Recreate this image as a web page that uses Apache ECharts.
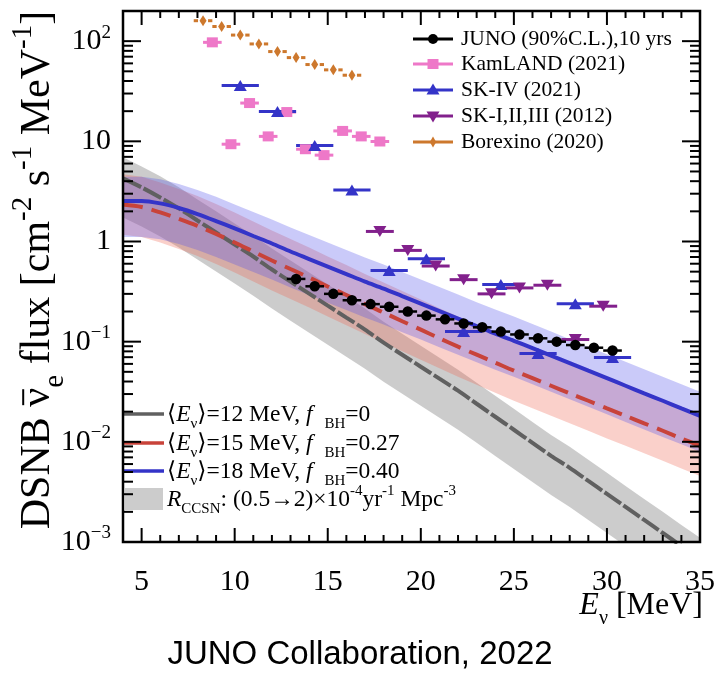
<!DOCTYPE html>
<html>
<head>
<meta charset="utf-8">
<script src="https://cdn.jsdelivr.net/npm/echarts@6/dist/echarts.min.js"></script>
<style>
  html, body { margin: 0; padding: 0; background: #fff; }
  #chart { width: 718px; height: 681px; }
</style>
</head>
<body>
<div id="chart"></div>
<script>
// ---- Axis ticks ----
const xTickLabels = [5, 10, 15, 20, 25, 30, 35];
const yDecadeExponents = [-3, -2, -1, 0, 1, 2];

// ---- Model predictions (flux in cm^-2 s^-1 MeV^-1 vs E_nu in MeV) ----
const energyGrid = [4, 5, 6, 7, 8, 9, 10, 11, 12, 13, 14, 15, 16, 17, 18, 19, 20, 21, 22, 23, 24, 25, 26, 27, 28, 29, 30, 31, 32, 33, 34, 35];

// <E_nu> = 12 MeV, f_BH = 0
const flux12 = [4.27, 3.47, 2.75, 2.14, 1.62, 1.23, 0.933, 0.708, 0.525, 0.398, 0.302, 0.229, 0.174, 0.132, 0.0977, 0.0741, 0.0562, 0.0427, 0.0324, 0.0240, 0.0178, 0.0132, 0.00977, 0.00724, 0.00550, 0.00407, 0.00302, 0.00224, 0.00166, 0.00123, 0.000912, 0.000676];
const flux12High = [6.92, 5.62, 4.47, 3.47, 2.63, 2.00, 1.51, 1.15, 0.851, 0.646, 0.490, 0.372, 0.282, 0.214, 0.158, 0.120, 0.0912, 0.0692, 0.0525, 0.0389, 0.0288, 0.0214, 0.0158, 0.0117, 0.00891, 0.00661, 0.00490, 0.00363, 0.00269, 0.00200, 0.00148, 0.00110];
const flux12Low = [1.74, 1.41, 1.12, 0.871, 0.661, 0.501, 0.380, 0.288, 0.214, 0.162, 0.123, 0.0933, 0.0708, 0.0537, 0.0398, 0.0302, 0.0229, 0.0174, 0.0132, 0.00977, 0.00724, 0.00537, 0.00398, 0.00295, 0.00224, 0.00166, 0.00123, 0.000912, 0.000676, 0.000501, 0.000372, 0.000275];

// <E_nu> = 15 MeV, f_BH = 0.27
const flux15 = [2.34, 2.21, 1.95, 1.68, 1.43, 1.19, 0.977, 0.794, 0.646, 0.531, 0.437, 0.355, 0.292, 0.237, 0.195, 0.160, 0.132, 0.108, 0.0891, 0.0741, 0.0617, 0.0513, 0.0432, 0.0363, 0.0305, 0.0257, 0.0216, 0.0182, 0.0153, 0.0129, 0.0108, 0.00912];
const flux15High = [4.68, 4.42, 3.89, 3.35, 2.85, 2.37, 1.95, 1.58, 1.29, 1.06, 0.871, 0.708, 0.582, 0.473, 0.389, 0.320, 0.263, 0.216, 0.178, 0.148, 0.123, 0.102, 0.0861, 0.0724, 0.0610, 0.0513, 0.0432, 0.0363, 0.0305, 0.0257, 0.0216, 0.0182];
const flux15Low = [1.17, 1.11, 0.977, 0.841, 0.716, 0.596, 0.490, 0.398, 0.324, 0.266, 0.219, 0.178, 0.146, 0.119, 0.0977, 0.0804, 0.0661, 0.0543, 0.0447, 0.0372, 0.0309, 0.0257, 0.0216, 0.0182, 0.0153, 0.0129, 0.0108, 0.00912, 0.00767, 0.00646, 0.00543, 0.00457];

// <E_nu> = 18 MeV, f_BH = 0.40
const flux18 = [2.54, 2.54, 2.40, 2.16, 1.88, 1.60, 1.35, 1.135, 0.955, 0.794, 0.668, 0.562, 0.473, 0.398, 0.339, 0.285, 0.240, 0.202, 0.170, 0.143, 0.120, 0.102, 0.0861, 0.0724, 0.0610, 0.0513, 0.0432, 0.0363, 0.0305, 0.0257, 0.0216, 0.0182];
const flux18High = [4.42, 4.42, 4.17, 3.76, 3.27, 2.79, 2.34, 1.97, 1.66, 1.38, 1.16, 0.977, 0.822, 0.692, 0.589, 0.495, 0.417, 0.351, 0.295, 0.248, 0.209, 0.178, 0.150, 0.126, 0.106, 0.0891, 0.0750, 0.0631, 0.0531, 0.0447, 0.0376, 0.0316];
const flux18Low = [1.11, 1.11, 1.05, 0.944, 0.822, 0.700, 0.589, 0.495, 0.417, 0.347, 0.292, 0.245, 0.207, 0.174, 0.148, 0.124, 0.105, 0.0881, 0.0741, 0.0624, 0.0525, 0.0447, 0.0376, 0.0316, 0.0266, 0.0224, 0.0188, 0.0158, 0.0133, 0.0112, 0.00944, 0.00794];

// ---- Experimental limits ----
const junoEnergy = [13.3, 14.3, 15.3, 16.3, 17.3, 18.3, 19.3, 20.3, 21.3, 22.3, 23.3, 24.3, 25.3, 26.3, 27.3, 28.3, 29.3, 30.3];
const junoFlux = [0.423, 0.357, 0.300, 0.259, 0.237, 0.223, 0.200, 0.182, 0.167, 0.152, 0.139, 0.126, 0.118, 0.108, 0.100, 0.0925, 0.087, 0.0815];
const junoHalfBin = 0.5;

const kamlandEnergy = [8.8, 9.8, 10.8, 11.8, 12.8, 13.8, 14.8, 15.8, 16.8, 17.8];
const kamlandFlux = [97.3, 9.36, 24.1, 11.2, 19.6, 8.34, 7.28, 12.7, 11.2, 9.96];
const kamlandHalfBin = 0.5;

const sk4Energy = [10.3, 12.3, 14.3, 16.3, 18.3, 20.3, 22.3, 24.3, 26.3, 28.3, 30.3];
const sk4Flux = [36.1, 19.9, 9.08, 3.27, 0.512, 0.673, 0.126, 0.372, 0.076, 0.239, 0.0694];
const sk4HalfBin = 1.0;

const sk123Energy = [17.8, 19.3, 20.8, 22.3, 23.8, 25.3, 26.8, 28.3, 29.8];
const sk123Flux = [1.26, 0.815, 0.569, 0.416, 0.300, 0.344, 0.366, 0.105, 0.226];
const sk123HalfBin = 0.75;

const borexinoEnergy = [8.3, 9.3, 10.3, 11.3, 12.3, 13.3, 14.3, 15.3, 16.3];
const borexinoFlux = [160, 140, 115, 93.8, 78.7, 68.5, 58.4, 51.7, 45.7];
const borexinoHalfBin = 0.5;

// ---- Legend texts ----
const dataLegendLabels = ['JUNO (90%C.L.),10 yrs', 'KamLAND (2021)', 'SK-IV (2021)', 'SK-I,II,III (2012)', 'Borexino (2020)'];
const modelLegendLabels = [
  '{n|⟨}{i|E}{sub|ν}{n|⟩=12 MeV, }{i|f}{n|  }{sub|BH}{n|=0}',
  '{n|⟨}{i|E}{sub|ν}{n|⟩=15 MeV, }{i|f}{n|  }{sub|BH}{n|=0.27}',
  '{n|⟨}{i|E}{sub|ν}{n|⟩=18 MeV, }{i|f}{n|  }{sub|BH}{n|=0.40}',
  '{i|R}{sub|CCSN}{n|: (0.5→2)×10}{sup|-4}{n|yr}{sup|-1}{n| Mpc}{sup|-3}'
];
// y-axis title pieces: [text, style]
const yTitlePieces = [['DSNB ', 'n'], ['ν', 'n'], ['e', 'sub'], [' flux [cm', 'n'], ['-2', 'sup'], [' s', 'n'], ['-1', 'sup'], [' MeV', 'n'], ['-1', 'sup'], [']', 'n']];

// ---- Styling ----
const SERIF = '"Liberation Serif", "DejaVu Serif", serif';
const SANS = '"Liberation Sans", Arial, sans-serif';
const C = {
  gray: '#606060', grayBand: 'rgba(110,110,110,0.35)',
  red: '#c8433a', redBand: 'rgba(240,100,80,0.30)',
  blue: '#3434c8', blueBand: 'rgba(80,80,235,0.30)',
  juno: '#000000', kamland: '#ee78c8', sk4: '#3434c8', sk123: '#82208c', borexino: '#cd782d'
};
const SUB_SCALE = 0.64;

function bandSeries(low, high, fill) {
  return {
    type: 'custom',
    coordinateSystem: 'cartesian2d',
    clip: true,
    silent: true,
    z: 1,
    data: energyGrid.map((e, i) => [e, low[i], high[i]]),
    renderItem(params, api) {
      if (params.dataIndexInside !== 0) return null;
      const n = params.dataInsideLength;
      const pts = [];
      for (let i = 0; i < n; i++) pts.push(api.coord([api.value(0, i), api.value(2, i)]));
      for (let i = n - 1; i >= 0; i--) pts.push(api.coord([api.value(0, i), api.value(1, i)]));
      return { type: 'polygon', shape: { points: pts }, style: { fill: fill } };
    }
  };
}

function curveSeries(values, color, width, dash) {
  return {
    type: 'line',
    data: energyGrid.map((e, i) => [e, values[i]]),
    symbol: 'none',
    smooth: 0.3,
    clip: true,
    silent: true,
    z: 2,
    lineStyle: { color: color, width: width, type: dash || 'solid', cap: 'butt' }
  };
}

function errorBarSeries(energy, flux, halfBin, color, width, gap) {
  return {
    type: 'custom',
    coordinateSystem: 'cartesian2d',
    clip: true,
    silent: true,
    z: 3,
    data: energy.map((e, i) => [e, flux[i]]),
    renderItem(params, api) {
      const e = api.value(0), f = api.value(1);
      const a = api.coord([e - halfBin, f]);
      const b = api.coord([e + halfBin, f]);
      const c = api.coord([e, f]);
      const style = { stroke: color, lineWidth: width };
      if (!gap) {
        return { type: 'line', shape: { x1: a[0], y1: a[1], x2: b[0], y2: b[1] }, style };
      }
      return {
        type: 'group',
        children: [
          { type: 'line', shape: { x1: a[0], y1: a[1], x2: c[0] - gap, y2: c[1] }, style },
          { type: 'line', shape: { x1: c[0] + gap, y1: c[1], x2: b[0], y2: b[1] }, style }
        ]
      };
    }
  };
}

function markerSeries(energy, flux, symbol, size, color, rotate) {
  return {
    type: 'scatter',
    data: energy.map((e, i) => [e, flux[i]]),
    symbol: symbol,
    symbolSize: size,
    symbolRotate: rotate || 0,
    silent: true,
    z: 4,
    itemStyle: { color: color, opacity: 1 }
  };
}

// Frame ticks on all four sides (major + minor), placed through the axes.
const tickItems = [];
for (let v = 4; v <= 35; v++) tickItems.push([v, 1, xTickLabels.indexOf(v) >= 0 ? 1 : 0, 0]);
yDecadeExponents.forEach(ex => {
  for (let k = 1; k <= 9; k++) {
    const val = k * Math.pow(10, ex);
    if (val <= 200) tickItems.push([10, val, k === 1 ? 1 : 0, 1]);
  }
});

const frameSeries = {
  type: 'custom',
  coordinateSystem: 'cartesian2d',
  silent: true,
  clip: false,
  z: 10,
  data: tickItems,
  renderItem(params, api) {
    const cs = params.coordSys;
    const left = cs.x, right = cs.x + cs.width, top = cs.y, bottom = cs.y + cs.height;
    const p = api.coord([api.value(0), api.value(1)]);
    const major = api.value(2) === 1;
    const style = { stroke: '#000', lineWidth: 2 };
    const children = [];
    if (api.value(3) === 0) {
      const len = major ? 14 : 7;
      children.push({ type: 'line', shape: { x1: p[0], y1: bottom, x2: p[0], y2: bottom - len }, style });
      children.push({ type: 'line', shape: { x1: p[0], y1: top, x2: p[0], y2: top + len }, style });
    } else {
      const len = major ? 18 : 10;
      children.push({ type: 'line', shape: { x1: left, y1: p[1], x2: left + len, y2: p[1] }, style });
      children.push({ type: 'line', shape: { x1: right, y1: p[1], x2: right - len, y2: p[1] }, style });
    }
    if (params.dataIndexInside === 0) {
      children.push({ type: 'rect', shape: { x: left, y: top, width: cs.width, height: cs.height },
        style: { fill: 'none', stroke: '#000', lineWidth: 2.5 } });
    }
    return { type: 'group', children };
  }
};

// Rich-text styles: every fragment gets a box of 1.5*base so sub/superscripts
// can be shifted purely through padding.
function richStyles(base, subScale) {
  const s = Math.round(base * (subScale || SUB_SCALE));
  const H = Math.round(base * 1.5);
  const nTop = Math.round(base * 0.2);
  const subTop = Math.round(base * 1.1 - s / 2);
  const supTop = Math.max(0, Math.round(base * 0.3 - s / 2));
  return {
    n: { fontFamily: SERIF, fontSize: base, lineHeight: base, padding: [nTop, 0, H - nTop - base, 0], color: '#000' },
    i: { fontFamily: SERIF, fontStyle: 'italic', fontSize: base, lineHeight: base, padding: [nTop, 0, H - nTop - base, 0], color: '#000' },
    sub: { fontFamily: SERIF, fontSize: s, lineHeight: s, padding: [subTop, 0, Math.max(0, H - subTop - s), 0], color: '#000' },
    sup: { fontFamily: SERIF, fontSize: s, lineHeight: s, padding: [supTop, 0, Math.max(0, H - supTop - s), 0], color: '#000' }
  };
}

// text widths, used to place the bar over the anti-neutrino symbol
const measureCtx = document.createElement('canvas').getContext('2d');
function textWidth(str, size) {
  measureCtx.font = size + 'px "Liberation Serif"';
  return measureCtx.measureText(str).width;
}

// ---- Legend graphics ----
const legendGraphics = [];
const dataLegendRows = [39, 64, 90, 116, 142];
const dataLegendColors = [C.juno, C.kamland, C.sk4, C.sk123, C.borexino];
dataLegendRows.forEach((y, i) => {
  const col = dataLegendColors[i];
  legendGraphics.push({ type: 'line', shape: { x1: 413, y1: y, x2: 453, y2: y }, style: { stroke: col, lineWidth: 3 } });
  const cx = 433;
  let mk;
  if (i === 0) mk = { type: 'circle', shape: { cx, cy: y, r: 5 }, style: { fill: col } };
  else if (i === 1) mk = { type: 'rect', shape: { x: cx - 5.5, y: y - 5, width: 11, height: 10 }, style: { fill: col } };
  else if (i === 2) mk = { type: 'polygon', shape: { points: [[cx, y - 6.5], [cx - 6.5, y + 4.5], [cx + 6.5, y + 4.5]] }, style: { fill: col } };
  else if (i === 3) mk = { type: 'polygon', shape: { points: [[cx, y + 6.5], [cx - 6.5, y - 4.5], [cx + 6.5, y - 4.5]] }, style: { fill: col } };
  else mk = { type: 'polygon', shape: { points: [[cx, y - 5.5], [cx + 3.2, y], [cx, y + 5.5], [cx - 3.2, y]] }, style: { fill: col } };
  legendGraphics.push(mk);
  legendGraphics.push({ type: 'text', x: 461, y: y, style: { text: dataLegendLabels[i], fontFamily: SERIF, fontSize: 21.5, fill: '#000', verticalAlign: 'middle', align: 'left' } });
});

const modelLegendRows = [414, 443, 471, 499];
const modelLegendColors = [C.gray, C.red, C.blue];
modelLegendRows.forEach((y, i) => {
  if (i < 3) {
    legendGraphics.push({ type: 'line', shape: { x1: 124, y1: y, x2: 164, y2: y }, style: { stroke: modelLegendColors[i], lineWidth: 3.5 } });
  } else {
    legendGraphics.push({ type: 'rect', shape: { x: 125, y: y - 11, width: 38, height: 22 }, style: { fill: '#cccccc' } });
  }
  legendGraphics.push({ type: 'text', x: 167, y: y + 2, style: { text: modelLegendLabels[i], rich: richStyles(23.5), verticalAlign: 'middle', align: 'left' } });
});

// ---- Axis titles and caption ----
const Y_TITLE_SIZE = 42;
const Y_TITLE_SUB = 0.68;
const yTitleRich = richStyles(Y_TITLE_SIZE, Y_TITLE_SUB);
const yTitleSub = Math.round(Y_TITLE_SIZE * Y_TITLE_SUB);
const yTitleWidths = yTitlePieces.map(p => textWidth(p[0], p[1] === 'n' ? Y_TITLE_SIZE : yTitleSub));
const yTitleTotal = yTitleWidths.reduce((a, b) => a + b, 0);
const nuStart = -yTitleTotal / 2 + yTitleWidths[0];
const nuWidth = yTitleWidths[1];

const titleGraphics = [
  { type: 'group', x: 40, y: 270, rotation: Math.PI / 2,
    children: [
      { type: 'text', style: { text: yTitlePieces.map(p => '{' + p[1] + '|' + p[0] + '}').join(''),
        rich: yTitleRich, align: 'center', verticalAlign: 'middle' } },
      { type: 'line', shape: { x1: nuStart + nuWidth * 0.08, y1: -Y_TITLE_SIZE * 0.4, x2: nuStart + nuWidth * 0.92, y2: -Y_TITLE_SIZE * 0.4 },
        style: { stroke: '#000', lineWidth: 2 } }
    ] },
  { type: 'text', x: 703, y: 608,
    style: { text: '{i|E}{sub|ν}{n| [MeV]}', rich: richStyles(32), align: 'right', verticalAlign: 'middle' } },
  { type: 'text', x: 360, y: 655,
    style: { text: 'JUNO Collaboration, 2022', fontFamily: SANS, fontSize: 33, fill: '#000', align: 'center', verticalAlign: 'middle' } }
];

const chart = echarts.init(document.getElementById('chart'), null, { renderer: 'canvas' });
chart.setOption({
  animation: false,
  backgroundColor: '#ffffff',
  grid: { left: 123, top: 11, width: 579, height: 531, show: false },
  xAxis: {
    type: 'value', min: 4, max: 35, interval: 1,
    axisLine: { show: false }, axisTick: { show: false }, splitLine: { show: false },
    axisLabel: {
      interval: 0, margin: 25, fontFamily: SERIF, fontSize: 30, color: '#000',
      formatter: v => (xTickLabels.indexOf(Math.round(v)) >= 0 && Math.abs(v - Math.round(v)) < 1e-9) ? String(Math.round(v)) : ''
    }
  },
  yAxis: {
    type: 'log', logBase: 10, min: 0.001, max: 200,
    axisLine: { show: false }, axisTick: { show: false }, splitLine: { show: false },
    axisLabel: {
      margin: 12, color: '#000',
      formatter: v => {
        const ex = Math.log10(v);
        const r = Math.round(ex);
        if (Math.abs(ex - r) > 1e-6 || yDecadeExponents.indexOf(r) < 0) return '';
        if (r === 0) return '{b|1}';
        if (r === 1) return '{b|10}';
        return '{b|10}{s|' + String(r).replace('-', '−') + '}';
      },
      rich: {
        b: { fontFamily: SERIF, fontSize: 30, lineHeight: 30, padding: [3, 0, 3, 0], color: '#000' },
        s: { fontFamily: SERIF, fontSize: 19, lineHeight: 19, padding: [0, 0, 17, 0], color: '#000' }
      }
    }
  },
  series: [
    bandSeries(flux12Low, flux12High, C.grayBand),
    bandSeries(flux15Low, flux15High, C.redBand),
    bandSeries(flux18Low, flux18High, C.blueBand),
    curveSeries(flux12, C.gray, 4, [20, 3]),
    curveSeries(flux15, C.red, 4, [20, 9]),
    curveSeries(flux18, C.blue, 4),
    errorBarSeries(borexinoEnergy, borexinoFlux, borexinoHalfBin, C.borexino, 3, 5),
    errorBarSeries(kamlandEnergy, kamlandFlux, kamlandHalfBin, C.kamland, 3, 0),
    errorBarSeries(sk4Energy, sk4Flux, sk4HalfBin, C.sk4, 3, 0),
    errorBarSeries(sk123Energy, sk123Flux, sk123HalfBin, C.sk123, 3, 0),
    errorBarSeries(junoEnergy, junoFlux, junoHalfBin, C.juno, 2.5, 0),
    markerSeries(borexinoEnergy, borexinoFlux, 'diamond', [7, 11], C.borexino),
    markerSeries(kamlandEnergy, kamlandFlux, 'rect', [11, 10], C.kamland),
    markerSeries(sk4Energy, sk4Flux, 'triangle', [13, 11], C.sk4),
    markerSeries(sk123Energy, sk123Flux, 'triangle', [13, 11], C.sk123, 180),
    markerSeries(junoEnergy, junoFlux, 'circle', 10.5, C.juno),
    frameSeries
  ],
  graphic: { elements: legendGraphics.concat(titleGraphics) }
});
</script>
</body>
</html>
